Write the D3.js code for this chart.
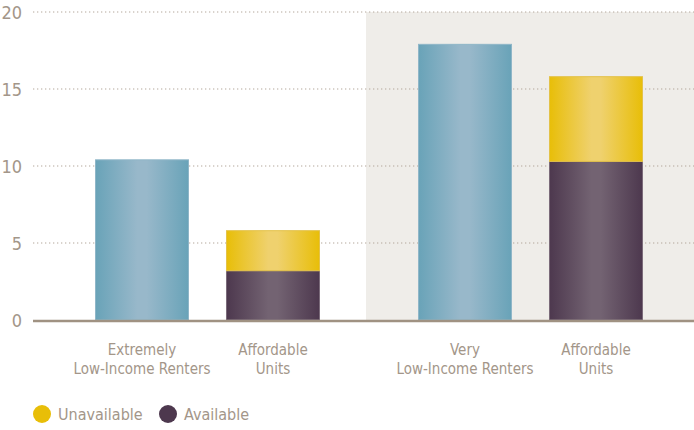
<!DOCTYPE html>
<html><head><meta charset="utf-8">
<script src="https://cdn.jsdelivr.net/npm/d3@7"></script>
<style>
body{margin:0;background:#fff;}
svg text{font-family:"DejaVu Sans Condensed","DejaVu Sans",sans-serif;font-stretch:condensed;fill:#a39689;}
</style></head>
<body><svg id="c" width="694" height="430"></svg>
<script>
const groups = ["g1","g2"];
const categories = [
  {group:"g1", key:"renters", label:["Extremely","Low-Income Renters"]},
  {group:"g1", key:"units", label:["Affordable","Units"]},
  {group:"g2", key:"renters", label:["Very","Low-Income Renters"]},
  {group:"g2", key:"units", label:["Affordable","Units"]}
];
const renters = [10.4, null, 17.9, null];
const available = [null, 3.2, null, 10.3];
const unavailable = [null, 2.6, null, 5.5];
const yTicks = [0,5,10,15,20];
const legendItems = ["Unavailable","Available"];

const svg = d3.select("#c");
const y = d3.scaleLinear().domain([0,20]).range([320,12]);
const xg = d3.scaleBand().domain(groups).range([46,692]);
const xi = d3.scaleBand().domain(["renters","units"]).range([0,xg.bandwidth()]).paddingInner(0.29).paddingOuter(0.378);

const defs = svg.append("defs");
function grad(id, edge, mid){
  const g = defs.append("linearGradient").attr("id",id).attr("x1","0%").attr("x2","100%").attr("y1","0%").attr("y2","0%");
  g.append("stop").attr("offset","0%").attr("stop-color",edge);
  g.append("stop").attr("offset","45%").attr("stop-color",mid);
  g.append("stop").attr("offset","55%").attr("stop-color",mid);
  g.append("stop").attr("offset","100%").attr("stop-color",edge);
}
grad("gBlue","#69a3b8","#98b8ca");
grad("gYel","#e8be08","#efd16e");
grad("gPur","#4d384e","#736372");

// shaded region
svg.append("rect").attr("x",xg("g2")-3).attr("y",y(20)).attr("width",694-xg("g2")+3).attr("height",y(0)-y(20)).attr("fill","#efede9");

// gridlines
svg.selectAll("line.grid").data(yTicks.filter(d=>d>0)).enter().append("line")
  .attr("x1",33).attr("x2",694).attr("y1",d=>y(d)).attr("y2",d=>y(d))
  .attr("stroke","#b3a79b").attr("stroke-width",1.2).attr("stroke-dasharray","1.3,2.7");

// y labels
svg.selectAll("text.yt").data(yTicks).enter().append("text")
  .attr("x",22).attr("y",d=>y(d)+7).attr("text-anchor","end").attr("font-size",18).text(d=>d);

const xc = (i)=> xg(categories[i].group)+xi(categories[i].key);
const bw = xi.bandwidth();

categories.forEach((c,i)=>{
  if(renters[i]!=null){
    svg.append("rect").attr("x",xc(i)).attr("y",y(renters[i])).attr("width",bw).attr("height",y(0)-y(renters[i]))
      .attr("fill","url(#gBlue)").attr("stroke","#8fb6c8").attr("stroke-width",1);
  }
  if(available[i]!=null){
    svg.append("rect").attr("x",xc(i)).attr("y",y(available[i])).attr("width",bw).attr("height",y(0)-y(available[i]))
      .attr("fill","url(#gPur)").attr("stroke","#7b6b7a").attr("stroke-width",1);
    const top = available[i]+unavailable[i];
    svg.append("rect").attr("x",xc(i)).attr("y",y(top)).attr("width",bw).attr("height",y(available[i])-y(top))
      .attr("fill","url(#gYel)").attr("stroke","#e3c24a").attr("stroke-width",1);
  }
  const t = svg.append("text").attr("x",xc(i)+bw/2).attr("y",355).attr("text-anchor","middle").attr("font-size",15);
  c.label.forEach((l,j)=> t.append("tspan").attr("x",xc(i)+bw/2).attr("dy",j?19:0).text(l));
});

// baseline
svg.append("line").attr("x1",33).attr("x2",694).attr("y1",y(0)+1).attr("y2",y(0)+1).attr("stroke","#a09282").attr("stroke-width",2.5);

// legend
const lg = svg.append("g");
const lx = [42,168];
const lcol = ["#e8be08","#4d384e"];
legendItems.forEach((l,i)=>{
  lg.append("circle").attr("cx",lx[i]).attr("cy",414).attr("r",9).attr("fill",lcol[i]);
  lg.append("text").attr("x",lx[i]+16).attr("y",420).attr("font-size",16).text(l);
});
</script></body></html>
